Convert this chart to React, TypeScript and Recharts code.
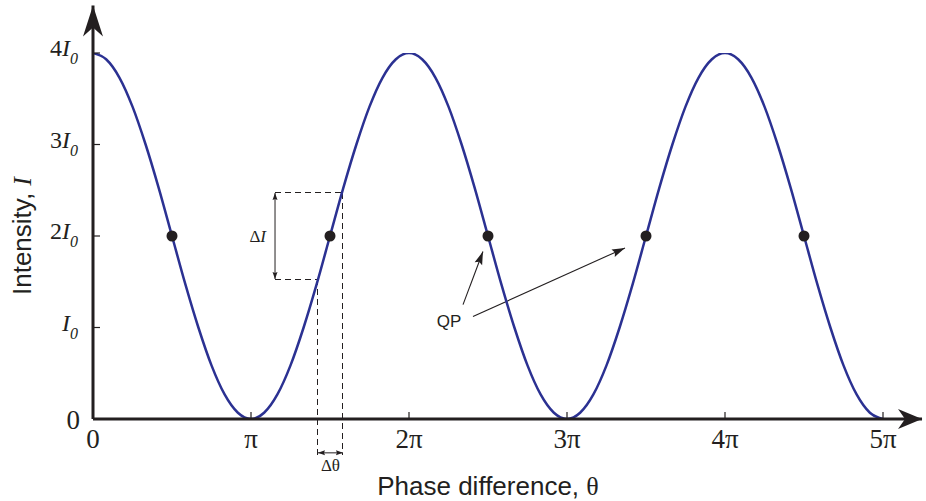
import React from 'react'
import { ComposedChart, Line, XAxis, YAxis, ReferenceLine, ReferenceDot } from 'recharts'

const CURVE = '#2B3192'
const INK = '#231F20'
const SERIF = '"Liberation Serif", "Times New Roman", serif'
const SANS = '"Liberation Sans", Arial, sans-serif'

// phase in units of pi, intensity in units of I0
const phase = [
  0, 0.083, 0.167, 0.25, 0.333, 0.417, 0.5, 0.583, 0.667, 0.75, 0.833, 0.917,
  1, 1.083, 1.167, 1.25, 1.333, 1.417, 1.5, 1.583, 1.667, 1.75, 1.833, 1.917,
  2, 2.083, 2.167, 2.25, 2.333, 2.417, 2.5, 2.583, 2.667, 2.75, 2.833, 2.917,
  3, 3.083, 3.167, 3.25, 3.333, 3.417, 3.5, 3.583, 3.667, 3.75, 3.833, 3.917,
  4, 4.083, 4.167, 4.25, 4.333, 4.417, 4.5, 4.583, 4.667, 4.75, 4.833, 4.917, 5,
]
const intensity = [
  4, 3.932, 3.732, 3.414, 3, 2.518, 2, 1.482, 1, 0.586, 0.268, 0.068,
  0, 0.068, 0.268, 0.586, 1, 1.482, 2, 2.518, 3, 3.414, 3.732, 3.932,
  4, 3.932, 3.732, 3.414, 3, 2.518, 2, 1.482, 1, 0.586, 0.268, 0.068,
  0, 0.068, 0.268, 0.586, 1, 1.482, 2, 2.518, 3, 3.414, 3.732, 3.932,
  4, 3.932, 3.732, 3.414, 3, 2.518, 2, 1.482, 1, 0.586, 0.268, 0.068, 0,
]
const qpPhase = [0.5, 1.5, 2.5, 3.5, 4.5]
const qpIntensity = [2, 2, 2, 2, 2]

const phaseTicks = [0, 1, 2, 3, 4, 5]
const phaseLabels = ['0', 'π', '2π', '3π', '4π', '5π']
const intensityTicks = [0, 1, 2, 3, 4]
const intensityCoef = ['0', '', '2', '3', '4']

// annotation anchors (data units)
const axisEndPhase = 5.247
const axisEndIntensity = 4.52
const dTheta = [1.424, 1.582]
const dI = [1.53, 2.47]
const dIArrowPhase = 1.152
const dThetaArrowLevel = -0.37
const dashBottom = -0.39
const qpLabel = { phase: 2.253, intensity: 1.07 }
const qpArrows = [
  { from: [2.342, 1.25], to: [2.468, 1.83] },
  { from: [2.405, 1.12], to: [3.367, 1.87] },
]

const curveData = phase.map((p, i) => ({ phase: p, intensity: intensity[i] }))
const qpData = qpPhase.map((p, i) => ({ phase: p, intensity: qpIntensity[i] }))

function headPath(tx: number, ty: number, fx: number, fy: number, len: number, half: number, notch: number) {
  const dx = tx - fx, dy = ty - fy
  const d = Math.hypot(dx, dy) || 1
  const ux = dx / d, uy = dy / d, nx = -uy, ny = ux
  const bx = tx - ux * len, by = ty - uy * len
  const cx = tx - ux * notch, cy = ty - uy * notch
  return `M${tx},${ty} L${bx + nx * half},${by + ny * half} L${cx},${cy} L${bx - nx * half},${by - ny * half} Z`
}

function ArrowLine(props: any) {
  const { x1, y1, x2, y2, width = 1, len = 7, half = 2.5, notch = 6, start = false, end = true, dash } = props
  return (
    <g>
      <line x1={x1} y1={y1} x2={x2} y2={y2} stroke={INK} strokeWidth={width} strokeDasharray={dash}
        shapeRendering={dash ? 'crispEdges' : undefined} />
      {end && <path d={headPath(x2, y2, x1, y1, len, half, notch)} fill={INK} />}
      {start && <path d={headPath(x1, y1, x2, y2, len, half, notch)} fill={INK} />}
    </g>
  )
}

function PhaseTick({ x, y, payload }: any) {
  const i = phaseTicks.indexOf(payload.value)
  return (
    <g>
      {payload.value !== 0 && <line x1={x} y1={y} x2={x} y2={y - 7} stroke={INK} strokeWidth={1.2} />}
      <text x={x} y={y + 29} textAnchor="middle" fontFamily={SERIF} fontSize={27} fill={INK}>{phaseLabels[i]}</text>
    </g>
  )
}

function IntensityTick({ x, y, payload }: any) {
  const v = payload.value
  if (v === 0) {
    return <text x={x - 13} y={y + 10} textAnchor="end" fontFamily={SERIF} fontSize={27} fill={INK}>0</text>
  }
  return (
    <g>
      <line x1={x} y1={y} x2={x + 7} y2={y} stroke={INK} strokeWidth={1.2} />
      <text x={x - 15} y={y + 3} textAnchor="end" fontFamily={SERIF} fontSize={24} fill={INK}>
        {intensityCoef[intensityTicks.indexOf(v)]}
        <tspan fontStyle="italic">I</tspan>
        <tspan fontStyle="italic" fontSize={16} dy={8}>0</tspan>
      </text>
    </g>
  )
}

const textDot = (content: React.ReactNode, dx: number, dy: number, anchor: string, size: number, family: string) =>
  (p: any) => (
    <text x={p.cx + dx} y={p.cy + dy} textAnchor={anchor} fontFamily={family} fontSize={size} fill={INK}>{content}</text>
  )

export default function App() {
  return (
    <div style={{ position: 'absolute', left: 0, top: 0, background: '#fff' }}>
      <ComposedChart width={926} height={501} margin={{ top: 53, right: 43, bottom: 0, left: 0 }}>
        <XAxis
          type="number" dataKey="phase" domain={[0, 5]} ticks={phaseTicks} height={82}
          axisLine={false} tickLine={false} tickSize={0} tickMargin={0} tick={<PhaseTick />} allowDataOverflow
          label={{
            content: ({ viewBox }: any) => (
              <text x={viewBox.x + viewBox.width / 2} y={viewBox.y + 76} textAnchor="middle" fontFamily={SANS} fontSize={26} fill={INK}>
                Phase difference, <tspan fontFamily={SERIF}>θ</tspan>
              </text>
            ),
          }}
        />
        <YAxis
          type="number" domain={[0, 4]} ticks={intensityTicks} width={93}
          axisLine={false} tickLine={false} tickSize={0} tickMargin={0} tick={<IntensityTick />} allowDataOverflow
          label={{
            content: ({ viewBox }: any) => {
              const cx = 31, cy = viewBox.y + viewBox.height / 2
              return (
                <text x={cx} y={cy} transform={`rotate(-90, ${cx}, ${cy})`} textAnchor="middle" fontFamily={SANS} fontSize={26} fill={INK}>
                  Intensity, <tspan fontFamily={SERIF} fontStyle="italic">I</tspan>
                </text>
              )
            },
          }}
        />

        {/* dashed construction for ΔI and Δθ */}
        <ReferenceLine ifOverflow="visible" segment={[{ x: dIArrowPhase, y: dI[1] }, { x: dTheta[1], y: dI[1] }]}
          shape={(p: any) => <ArrowLine {...p} end={false} dash="6 4" />} />
        <ReferenceLine ifOverflow="visible" segment={[{ x: dIArrowPhase, y: dI[0] }, { x: dTheta[0], y: dI[0] }]}
          shape={(p: any) => <ArrowLine {...p} end={false} dash="6 4" />} />
        <ReferenceLine ifOverflow="visible" segment={[{ x: dTheta[0], y: dI[0] }, { x: dTheta[0], y: dashBottom }]}
          shape={(p: any) => <ArrowLine {...p} end={false} dash="6 4" />} />
        <ReferenceLine ifOverflow="visible" segment={[{ x: dTheta[1], y: dI[1] }, { x: dTheta[1], y: dashBottom }]}
          shape={(p: any) => <ArrowLine {...p} end={false} dash="6 4" />} />
        <ReferenceLine ifOverflow="visible" segment={[{ x: dIArrowPhase, y: dI[0] }, { x: dIArrowPhase, y: dI[1] }]}
          shape={(p: any) => <ArrowLine {...p} start />} />
        <ReferenceLine ifOverflow="visible" segment={[{ x: dTheta[0], y: dThetaArrowLevel }, { x: dTheta[1], y: dThetaArrowLevel }]}
          shape={(p: any) => <ArrowLine {...p} start />} />

        {/* QP pointers */}
        {qpArrows.map((a, i) => (
          <ReferenceLine key={i} ifOverflow="visible" segment={[{ x: a.from[0], y: a.from[1] }, { x: a.to[0], y: a.to[1] }]}
            shape={(p: any) => <ArrowLine {...p} width={1.1} len={13} half={4} notch={11} />} />
        ))}

        <Line data={curveData} dataKey="intensity" type="monotone" stroke={CURVE} strokeWidth={2.5} dot={false} activeDot={false} isAnimationActive={false} />
        <Line data={qpData} dataKey="intensity" stroke="none" dot={{ r: 5.5, fill: INK, stroke: INK, strokeWidth: 0 }} activeDot={false} isAnimationActive={false} />

        {/* axes with arrow heads */}
        <ReferenceLine ifOverflow="visible" segment={[{ x: 0, y: 0 }, { x: axisEndPhase, y: 0 }]}
          shape={(p: any) => <ArrowLine {...p} width={3} len={24} half={10} notch={17} />} />
        <ReferenceLine ifOverflow="visible" segment={[{ x: 0, y: 0 }, { x: 0, y: axisEndIntensity }]}
          shape={(p: any) => <ArrowLine {...p} width={3} len={31} half={10} notch={22} />} />

        <ReferenceDot x={qpLabel.phase} y={qpLabel.intensity} r={0} ifOverflow="visible"
          shape={textDot('QP', 0, 6, 'middle', 17, SANS)} />
        <ReferenceDot x={dIArrowPhase} y={(dI[0] + dI[1]) / 2} r={0} ifOverflow="visible"
          shape={textDot(<>Δ<tspan fontStyle="italic">I</tspan></>, -9, 6, 'end', 17, SERIF)} />
        <ReferenceDot x={(dTheta[0] + dTheta[1]) / 2} y={dThetaArrowLevel} r={0} ifOverflow="visible"
          shape={textDot('Δθ', 0, 18, 'middle', 17, SERIF)} />
      </ComposedChart>
    </div>
  )
}
